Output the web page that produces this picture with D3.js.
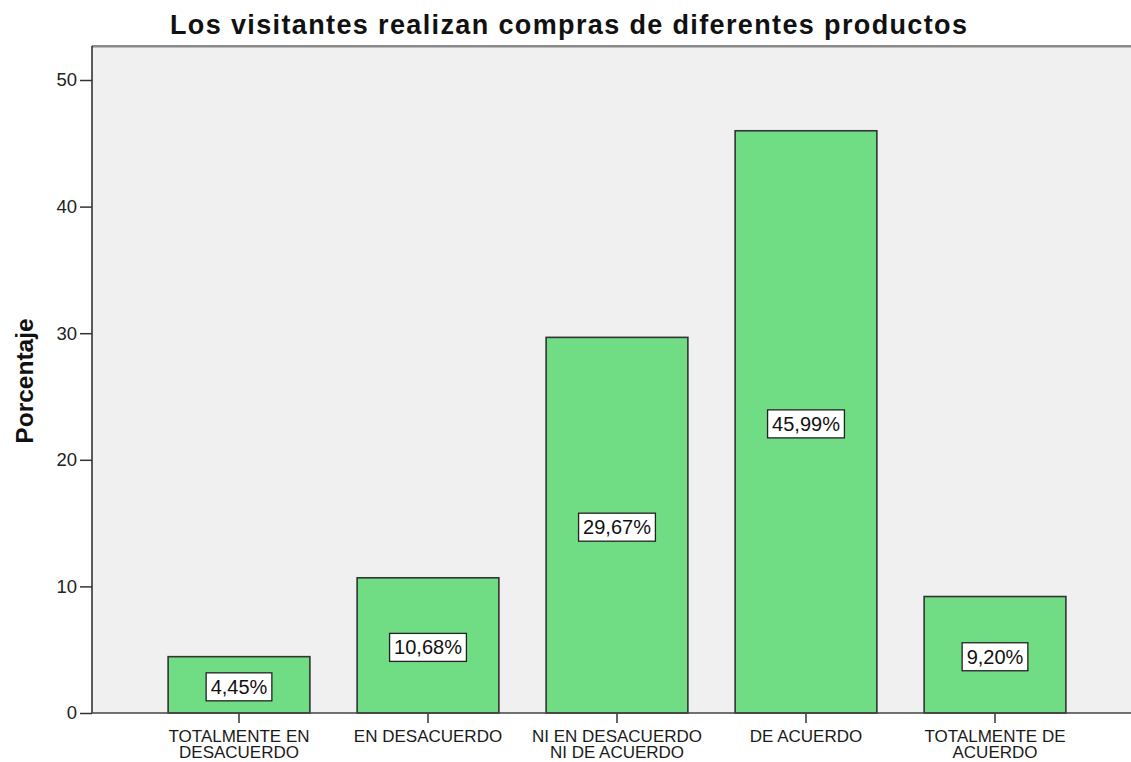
<!DOCTYPE html>
<html>
<head>
<meta charset="utf-8">
<script src="https://cdn.jsdelivr.net/npm/d3@7"></script>
<style>
  html, body { margin: 0; padding: 0; background: #ffffff; }
  svg { display: block; font-family: "Liberation Sans", Arial, sans-serif; }
</style>
</head>
<body>
<svg id="chart" width="1131" height="762"></svg>
<script>
const categories = [
  ["TOTALMENTE EN", "DESACUERDO"],
  ["EN DESACUERDO"],
  ["NI EN DESACUERDO", "NI DE ACUERDO"],
  ["DE ACUERDO"],
  ["TOTALMENTE DE", "ACUERDO"]
];
const values = [4.45, 10.68, 29.67, 45.99, 9.20];
const valueLabels = ["4,45%", "10,68%", "29,67%", "45,99%", "9,20%"];
const yTicks = [0, 10, 20, 30, 40, 50];
const titleText = "Los visitantes realizan compras de diferentes productos";
const yLabel = "Porcentaje";

const svg = d3.select("#chart");
const plot = { left: 92, right: 1140, top: 46, bottom: 713 };

const keys = categories.map((c, i) => i);
const x = d3.scaleBand().domain(keys).range([144.5, 1089.5]).paddingInner(0.25).paddingOuter(0.125);
const y = d3.scaleLinear().domain([0, 50]).range([713, 80]);

// plot background
svg.append("rect")
  .attr("x", plot.left).attr("y", plot.top)
  .attr("width", plot.right - plot.left).attr("height", plot.bottom - plot.top)
  .attr("fill", "#f0f0f0");

// top border
svg.append("line")
  .attr("x1", plot.left).attr("x2", plot.right)
  .attr("y1", plot.top).attr("y2", plot.top)
  .attr("stroke", "#666").attr("stroke-width", 1.5);
svg.append("line")
  .attr("x1", plot.left).attr("x2", plot.right)
  .attr("y1", plot.top + 1.5).attr("y2", plot.top + 1.5)
  .attr("stroke", "#bbb").attr("stroke-width", 1);

// bars
svg.append("g").selectAll("rect").data(values).join("rect")
  .attr("x", (d, i) => x(i))
  .attr("y", d => y(d))
  .attr("width", x.bandwidth())
  .attr("height", d => y(0) - y(d))
  .attr("fill", "#70dc84")
  .attr("stroke", "#333")
  .attr("stroke-width", 1.6);

// y axis
const yAxis = d3.axisLeft(y).tickValues(yTicks).tickSize(12).tickPadding(3).tickFormat(d3.format("d"));
const gy = svg.append("g").attr("transform", `translate(${plot.left},0)`).call(yAxis);
gy.select(".domain").remove();
gy.selectAll(".tick line").attr("stroke", "#333").attr("stroke-width", 1.5);
gy.selectAll(".tick text").attr("fill", "#222").style("font-size", "18.5px").style("font-family", "Liberation Sans, Arial, sans-serif");
svg.append("line")
  .attr("x1", plot.left).attr("x2", plot.left)
  .attr("y1", plot.top).attr("y2", plot.bottom)
  .attr("stroke", "#333").attr("stroke-width", 1.6);

// x axis
const xAxis = d3.axisBottom(x).tickSize(10).tickFormat("");
const gx = svg.append("g").attr("transform", `translate(0,${plot.bottom})`).call(xAxis);
gx.select(".domain").remove();
gx.selectAll(".tick line").attr("stroke", "#333").attr("stroke-width", 1.5);
svg.append("line")
  .attr("x1", plot.left).attr("x2", plot.right)
  .attr("y1", plot.bottom).attr("y2", plot.bottom)
  .attr("stroke", "#444").attr("stroke-width", 1.6);

// category labels
const catG = svg.append("g");
categories.forEach((lines, i) => {
  const t = catG.append("text")
    .attr("x", x(i) + x.bandwidth() / 2)
    .attr("y", 742)
    .attr("text-anchor", "middle")
    .attr("fill", "#1a1a1a")
    .style("font-size", "17px");
  lines.forEach((ln, j) => {
    t.append("tspan").attr("x", x(i) + x.bandwidth() / 2).attr("dy", j === 0 ? 0 : 16).text(ln);
  });
});

// value labels with boxes
const lblG = svg.append("g");
values.forEach((v, i) => {
  const cx = x(i) + x.bandwidth() / 2;
  const cy = (y(v) + y(0)) / 2 + 2;
  const g = lblG.append("g");
  const t = g.append("text")
    .attr("x", cx).attr("y", cy + 7)
    .attr("text-anchor", "middle")
    .attr("fill", "#111")
    .style("font-size", "20px")
    .text(valueLabels[i]);
  const w = t.node().getComputedTextLength();
  g.insert("rect", "text")
    .attr("x", cx - w / 2 - 4.5).attr("y", cy - 14)
    .attr("width", w + 9).attr("height", 28)
    .attr("fill", "#ffffff").attr("stroke", "#222").attr("stroke-width", 1.3);
});

// title
svg.append("text")
  .attr("x", 170).attr("y", 33.5)
  .attr("textLength", 797).attr("lengthAdjust", "spacing")
  .attr("fill", "#111")
  .style("font-size", "27px").style("font-weight", "bold")
  .text(titleText);

// y label
svg.append("text")
  .attr("transform", "translate(33,381) rotate(-90)")
  .attr("text-anchor", "middle")
  .attr("fill", "#111")
  .style("font-size", "24.5px").style("font-weight", "bold")
  .text(yLabel);
</script>
</body>
</html>
